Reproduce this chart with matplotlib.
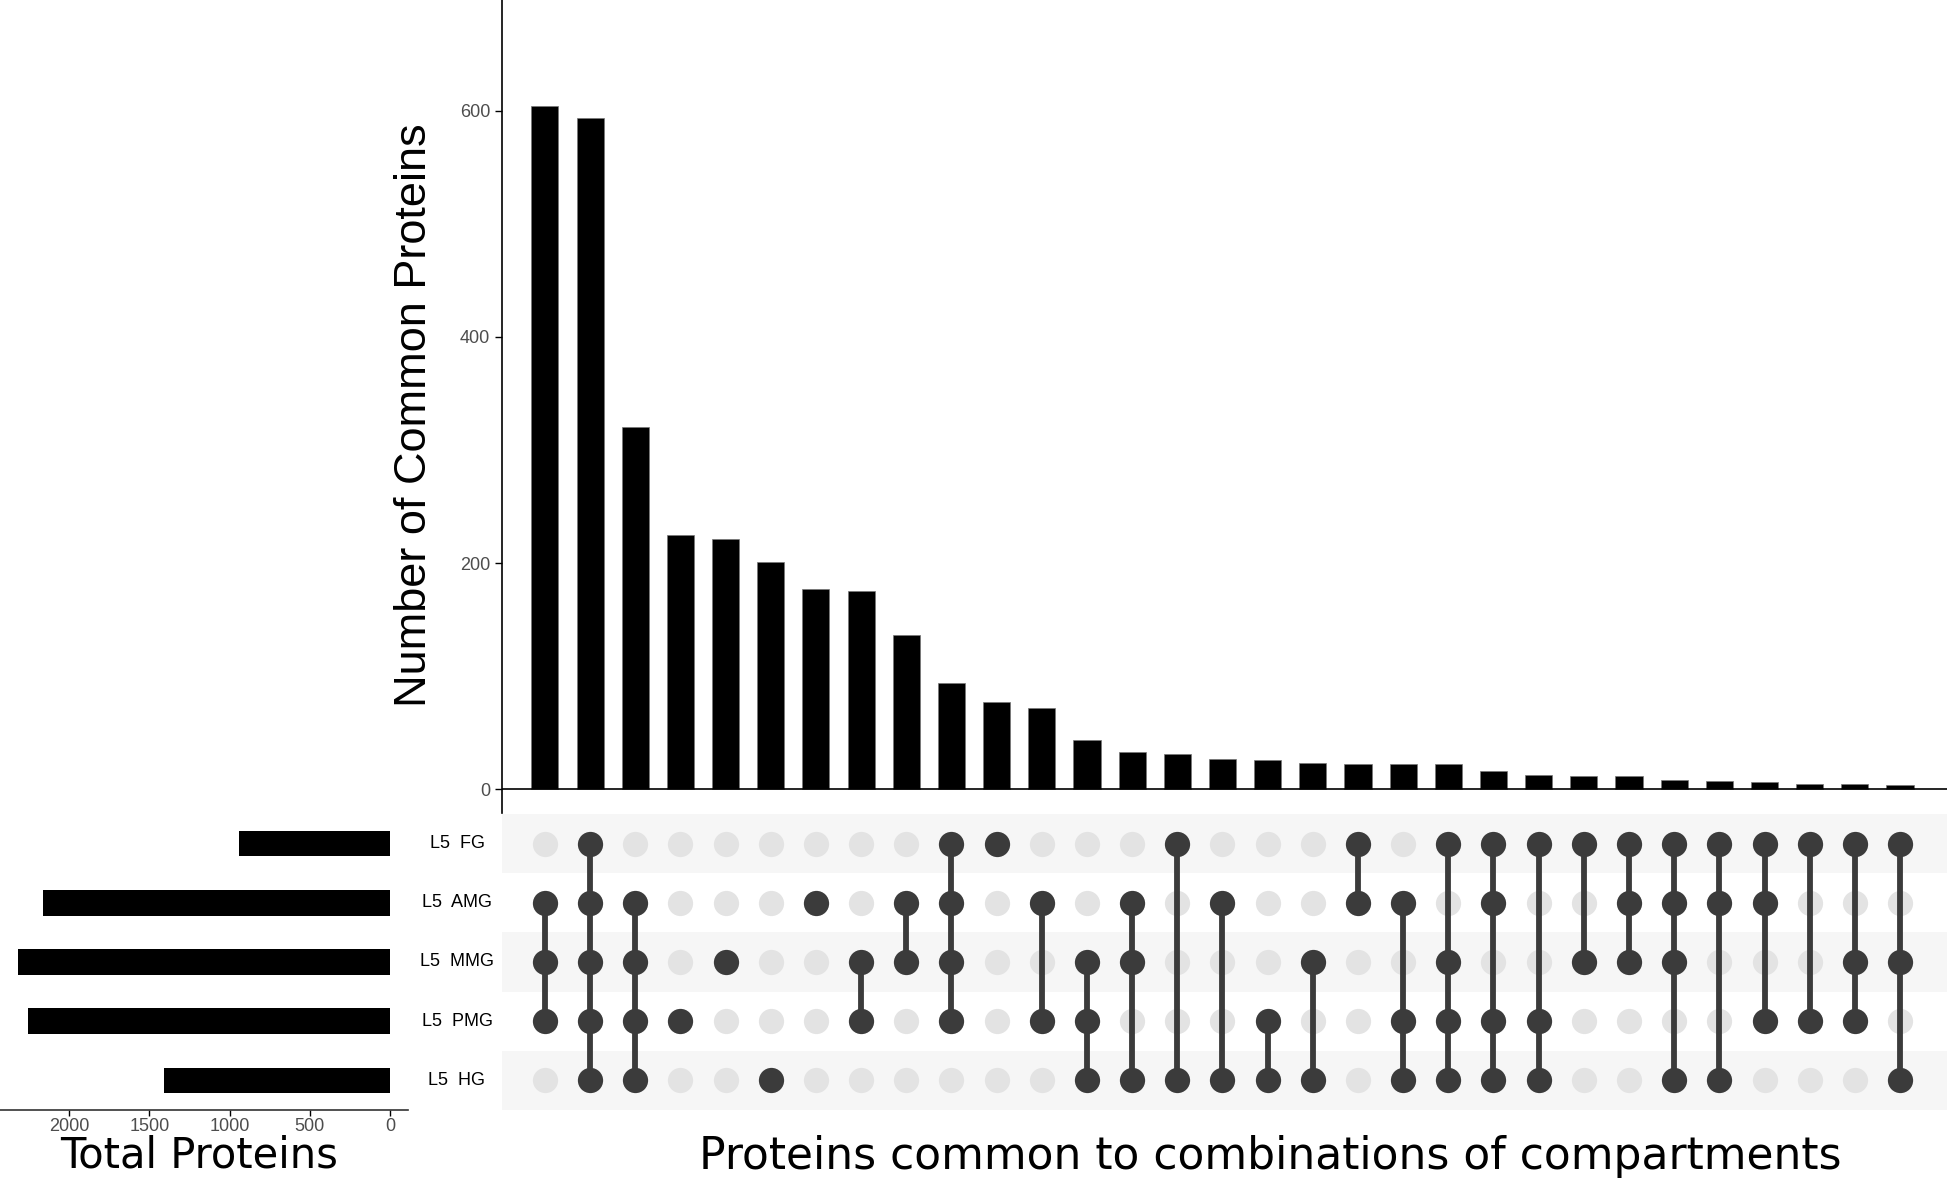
import matplotlib
matplotlib.use("Agg")
import matplotlib.pyplot as plt
import matplotlib.transforms as mtransforms

# set names (top to bottom in the matrix) and their totals
set_names = ["FG", "AMG", "MMG", "PMG", "HG"]
set_labels = ["L5  FG", "L5  AMG", "L5  MMG", "L5  PMG", "L5  HG"]
set_sizes = [940, 2161, 2317, 2255, 1406]

# intersections, in the order shown
combos = [
    ("AMG", "MMG", "PMG"),
    ("FG", "AMG", "MMG", "PMG", "HG"),
    ("AMG", "MMG", "PMG", "HG"),
    ("PMG",),
    ("MMG",),
    ("HG",),
    ("AMG",),
    ("MMG", "PMG"),
    ("AMG", "MMG"),
    ("FG", "AMG", "MMG", "PMG"),
    ("FG",),
    ("AMG", "PMG"),
    ("MMG", "PMG", "HG"),
    ("AMG", "MMG", "HG"),
    ("FG", "HG"),
    ("AMG", "HG"),
    ("PMG", "HG"),
    ("MMG", "HG"),
    ("FG", "AMG"),
    ("AMG", "PMG", "HG"),
    ("FG", "MMG", "PMG", "HG"),
    ("FG", "AMG", "PMG", "HG"),
    ("FG", "PMG", "HG"),
    ("FG", "MMG"),
    ("FG", "AMG", "MMG"),
    ("FG", "AMG", "MMG", "HG"),
    ("FG", "AMG", "HG"),
    ("FG", "AMG", "PMG"),
    ("FG", "PMG"),
    ("FG", "MMG", "PMG"),
    ("FG", "MMG", "HG"),
]
counts = [604, 594, 320, 225, 221, 201, 177, 175, 136, 94, 77, 72, 44, 33, 31,
          27, 26, 23, 22, 22, 22, 16, 13, 12, 12, 8, 7, 6, 5, 5, 4]

W, H = 1952, 1179
fig = plt.figure(figsize=(W / 100, H / 100), dpi=100)

dark = "#3b3b3b"
light = "#e3e3e3"
tick_grey = "#4d4d4d"

xl = 502 / W
xr = 1947 / W
mat_top = 1 - 814 / H
mat_bot = 1 - 1110 / H
top_bot = 1 - 813 / H

ax_top = fig.add_axes([xl, top_bot, xr - xl, 1 - top_bot])
ax_mat = fig.add_axes([xl, mat_bot, xr - xl, mat_top - mat_bot])
ax_left = fig.add_axes([0, mat_bot, 408 / W, mat_top - mat_bot])

n = len(counts)
xs = list(range(n))
xlim = (-0.95, n - 1 + 1.04)

# intersection size bars
ax_top.bar(xs, counts, width=0.6, color="black", edgecolor="#777777", linewidth=0.5)
ax_top.axhline(0, color="black", lw=1.2)
ax_top.set_xlim(xlim)
ax_top.set_ylim(-21, 698)
ax_top.set_yticks([0, 200, 400, 600])
ax_top.set_xticks([])
for s in ["top", "right", "bottom"]:
    ax_top.spines[s].set_visible(False)
ax_top.spines["left"].set_linewidth(1.2)
ax_top.tick_params(axis="y", labelsize=13, labelcolor=tick_grey, length=5, width=1)
for lab in ax_top.get_yticklabels():
    lab.set_family("Liberation Sans")

# matrix
ax_mat.set_xlim(xlim)
ax_mat.set_ylim(len(set_names) - 0.5, -0.5)
for i in range(len(set_names)):
    if i % 2 == 0:
        ax_mat.axhspan(i - 0.5, i + 0.5, color="#f6f6f6", zorder=0, lw=0)
for x, combo in enumerate(combos):
    rows = [set_names.index(c) for c in combo]
    ax_mat.scatter([x] * len(set_names), range(len(set_names)), s=330,
                   color=light, zorder=2, linewidths=0)
    if len(rows) > 1:
        ax_mat.plot([x, x], [min(rows), max(rows)], color=dark, lw=4.2, zorder=3)
    ax_mat.scatter([x] * len(rows), rows, s=330, color=dark, zorder=4, linewidths=0)
ax_mat.axis("off")

# set size bars
ax_left.barh(range(len(set_names)), set_sizes, height=0.43, color="black")
ax_left.set_ylim(len(set_names) - 0.5, -0.5)
ax_left.set_xlim(2430, -112)
ax_left.set_xticks([0, 500, 1000, 1500, 2000])
ax_left.set_yticks([])
for s in ["top", "right", "left"]:
    ax_left.spines[s].set_visible(False)
ax_left.spines["bottom"].set_linewidth(1.2)
ax_left.spines["bottom"].set_color("#333333")
ax_left.tick_params(axis="x", labelsize=13, labelcolor=tick_grey, length=4,
                    width=1, pad=2)
for lab in ax_left.get_xticklabels():
    lab.set_family("Liberation Sans")

# set labels between the two panels
trans = mtransforms.blended_transform_factory(fig.transFigure, ax_mat.transData)
for i, lab in enumerate(set_labels):
    fig.text(457 / W, i, lab, transform=trans, ha="center", va="center",
             fontsize=13, family="Liberation Sans", color="black")

# titles
fig.text(415 / W, 1 - 415 / H, "Number of Common Proteins", rotation=90,
         ha="center", va="center", fontsize=32.5, family="Liberation Sans")
fig.text(1270 / W, 1 - 1157 / H, "Proteins common to combinations of compartments",
         ha="center", va="center", fontsize=31.7, family="DejaVu Sans")
fig.text(199 / W, 1 - 1168 / H, "Total Proteins",
         ha="center", va="baseline", fontsize=30, family="DejaVu Sans")

fig.savefig("out.png", dpi=100)
